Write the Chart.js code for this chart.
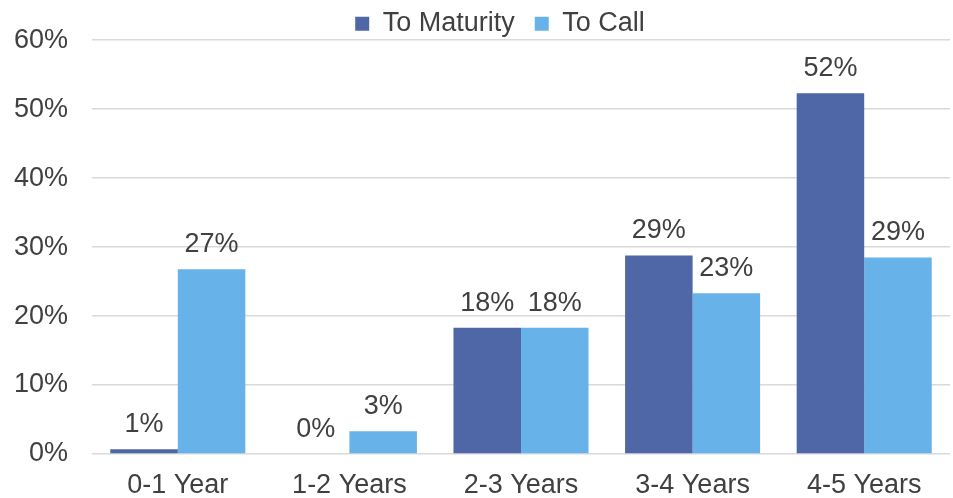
<!DOCTYPE html>
<html>
<head>
<meta charset="utf-8">
<script src="https://cdn.jsdelivr.net/npm/chart.js@4"></script>
<style>
  body { margin: 0; background: #fff; }
</style>
</head>
<body>
<canvas id="myChart" width="953" height="498"></canvas>
<script>
var categories = ["0-1 Year", "1-2 Years", "2-3 Years", "3-4 Years", "4-5 Years"];
var toMaturity = [0.7, 0, 18.3, 28.8, 52.3];
var toCall = [26.8, 3.3, 18.3, 23.3, 28.5];
var yTicks = [0, 10, 20, 30, 40, 50, 60];

var textColor = "#404040";
var fontFamily = "'Liberation Sans', Arial, sans-serif";

// draws the % value over each bar
var barLabels = {
  id: "barLabels",
  afterDatasetsDraw: function(chart) {
    var ctx = chart.ctx;
    ctx.save();
    ctx.font = "27px " + fontFamily;
    ctx.fillStyle = textColor;
    ctx.textAlign = "center";
    ctx.textBaseline = "alphabetic";
    chart.data.datasets.forEach(function(ds, i) {
      chart.getDatasetMeta(i).data.forEach(function(bar, j) {
        ctx.fillText(Math.round(ds.data[j]) + "%", bar.x, bar.y - 17);
      });
    });
    ctx.restore();
  }
};

// short legend box, items nudged up and right
var legendTweak = {
  id: "legendTweak",
  beforeInit: function(chart) {
    var lg = chart.legend;
    var fit = lg.fit, draw = lg.draw;
    lg.fit = function() { fit.call(this); this.height = 39; };
    lg.draw = function() {
      var t = this.top, l = this.left, r = this.right;
      this.top = t - 11;
      this.left = l + 25;
      this.right = r + 25;
      draw.call(this);
      this.top = t;
      this.left = l;
      this.right = r;
    };
  }
};

new Chart("myChart", {
  type: "bar",
  data: {
    labels: categories,
    datasets: [{
      label: "To Maturity",
      data: toMaturity,
      backgroundColor: "#4F67A6"
    }, {
      label: "To Call",
      data: toCall,
      backgroundColor: "#67B2E8"
    }]
  },
  options: {
    responsive: false,
    animation: false,
    devicePixelRatio: 1,
    layout: { autoPadding: false, padding: { left: 0, right: 3, top: 0, bottom: 0 } },
    datasets: {
      bar: { categoryPercentage: 0.787, barPercentage: 1 }
    },
    plugins: {
      legend: {
        position: "top",
        labels: {
          boxWidth: 14,
          boxHeight: 14,
          padding: 20,
          color: textColor,
          font: { family: fontFamily, size: 27 }
        }
      },
      tooltip: { enabled: false }
    },
    scales: {
      x: {
        afterFit: function(axis) { axis.height = 44; },
        grid: { display: false, drawTicks: false },
        border: { display: false },
        ticks: {
          color: textColor,
          padding: 15,
          font: { family: fontFamily, size: 27 }
        }
      },
      y: {
        min: 0,
        max: 60,
        afterFit: function(axis) { axis.width = 92; },
        afterBuildTicks: function(axis) {
          axis.ticks = yTicks.map(function(v) { return { value: v }; });
        },
        grid: { color: "#d9d9d9", lineWidth: 1.5, drawTicks: false },
        border: { display: false },
        ticks: {
          color: textColor,
          padding: 24,
          font: { family: fontFamily, size: 27 },
          callback: function(v) { return v + "%"; }
        }
      }
    }
  },
  plugins: [barLabels, legendTweak]
});
</script>
</body>
</html>
